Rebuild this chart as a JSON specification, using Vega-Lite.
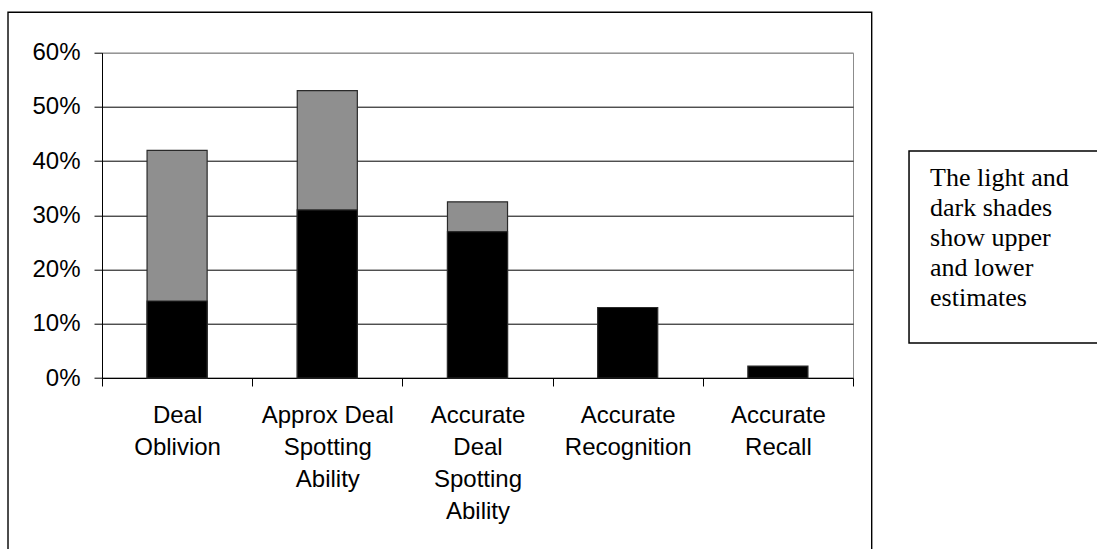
{
  "$schema": "https://vega.github.io/schema/vega-lite/v6.json",
  "width": 751,
  "height": 325.3,
  "autosize": {"type": "none"},
  "padding": {"left": 102, "top": 52.7, "right": 244, "bottom": 171},
  "background": "white",
  "config": {"view": {"stroke": "#8c8c8c", "strokeWidth": 1}, "font": "Liberation Sans"},
  "datasets": {
    "bars": [
      {"category": "Deal Oblivion", "shade": "Upper estimate", "value": 0.42},
      {"category": "Approx Deal Spotting Ability", "shade": "Upper estimate", "value": 0.53},
      {"category": "Accurate Deal Spotting Ability", "shade": "Upper estimate", "value": 0.325},
      {"category": "Deal Oblivion", "shade": "Lower estimate", "value": 0.142},
      {"category": "Approx Deal Spotting Ability", "shade": "Lower estimate", "value": 0.31},
      {"category": "Accurate Deal Spotting Ability", "shade": "Lower estimate", "value": 0.27},
      {"category": "Accurate Recognition", "shade": "Lower estimate", "value": 0.13},
      {"category": "Accurate Recall", "shade": "Lower estimate", "value": 0.022}
    ],
    "one": [{"frame": "chart area"}],
    "note": [{"text": ["The light and", "dark shades", "show upper", "and lower", "estimates"]}]
  },
  "resolve": {"scale": {"x": "independent"}},
  "layer": [
    {
      "data": {"name": "bars"},
      "mark": {"type": "bar", "stroke": "#2a2a2a", "strokeWidth": 1.2, "width": {"band": 0.4}},
      "encoding": {
        "x": {
          "field": "category", "type": "nominal", "sort": null,
          "scale": {"paddingInner": 0, "paddingOuter": 0},
          "axis": {
            "title": null, "domain": true, "domainColor": "black", "labelAngle": 0, "labelFontSize": 24, "labelColor": "black",
            "labelFont": "Liberation Sans", "labelLineHeight": 32, "labelPadding": 17, "labelLimit": 0,
            "tickSize": 8, "tickColor": "black", "tickBand": "extent", "labelBaseline": "top",
            "labelExpr": "datum.value == 'Deal Oblivion' ? ['Deal', 'Oblivion'] : datum.value == 'Approx Deal Spotting Ability' ? ['Approx Deal', 'Spotting', 'Ability'] : datum.value == 'Accurate Deal Spotting Ability' ? ['Accurate', 'Deal', 'Spotting', 'Ability'] : datum.value == 'Accurate Recognition' ? ['Accurate', 'Recognition'] : datum.value == 'Accurate Recall' ? ['Accurate', 'Recall'] : ''"
          }
        },
        "y": {
          "field": "value", "type": "quantitative",
          "scale": {"domain": [0, 0.6], "nice": false, "zero": false},
          "axis": {
            "title": null, "values": [0, 0.1, 0.2, 0.3, 0.4, 0.5, 0.6], "format": ".0%",
            "domain": true, "domainColor": "black", "grid": true,
            "gridColor": {"condition": {"test": "datum.value >= 0.6", "value": "#8c8c8c"}, "value": "black"},
            "gridOpacity": 1,
            "labelFontSize": 24, "labelColor": "black", "labelFont": "Liberation Sans", "labelPadding": 14,
            "tickSize": 8, "tickColor": "black"
          }
        },
        "y2": {"datum": 0},
        "color": {"field": "shade", "type": "nominal", "scale": {"domain": ["Upper estimate", "Lower estimate"], "range": ["#8f8f8f", "#000000"]}, "legend": null}
      }
    },
    {
      "data": {"name": "one"},
      "mark": {"type": "rect", "fill": "transparent", "stroke": "black", "strokeWidth": 1.4},
      "encoding": {
        "x": {"datum": -0.6258, "type": "quantitative", "scale": {"domain": [0, 5], "nice": false, "zero": false}, "axis": null},
        "x2": {"datum": 5.1245},
        "y": {"datum": 0.6745, "type": "quantitative"},
        "y2": {"datum": -0.4}
      }
    },
    {
      "data": {"name": "one"},
      "mark": {"type": "rect", "fill": "white", "stroke": "black", "strokeWidth": 1.5},
      "encoding": {
        "x": {"datum": 5.373, "type": "quantitative", "scale": {"domain": [0, 5], "nice": false, "zero": false}, "axis": null},
        "x2": {"datum": 6.72},
        "y": {"datum": 0.0646, "type": "quantitative"},
        "y2": {"datum": 0.4187}
      }
    },
    {
      "data": {"name": "note"},
      "mark": {"type": "text", "align": "left", "baseline": "alphabetic", "font": "Liberation Serif", "fontSize": 26, "lineHeight": 30, "color": "black"},
      "encoding": {
        "x": {"datum": 5.513, "type": "quantitative", "scale": {"domain": [0, 5], "nice": false, "zero": false}, "axis": null},
        "y": {"datum": 0.3541, "type": "quantitative"},
        "text": {"field": "text"}
      }
    }
  ]
}
